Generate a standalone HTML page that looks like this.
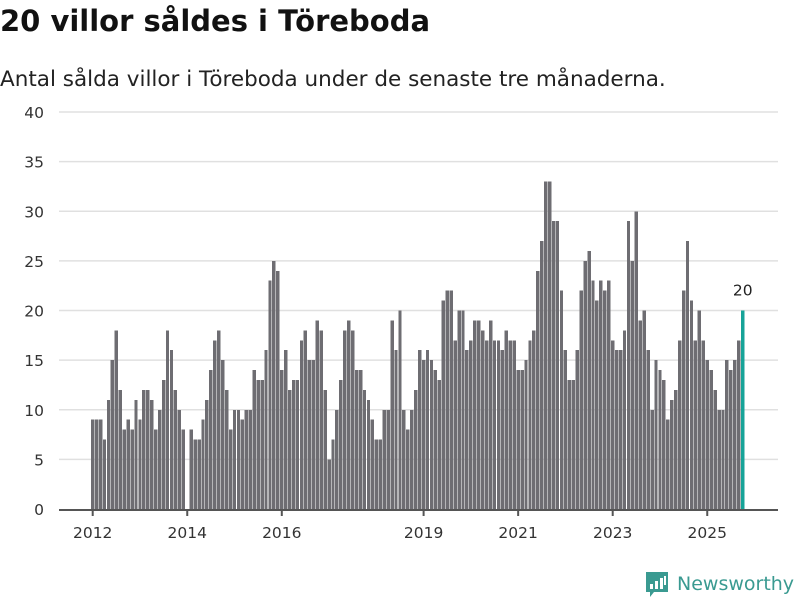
<!DOCTYPE html>
<html><head><meta charset="utf-8"><style>
body{margin:0;width:800px;height:600px;background:#fff;font-family:"DejaVu Sans","Liberation Sans",sans-serif;overflow:hidden;position:relative}
#title{position:absolute;left:0;top:4px;font-size:29px;font-weight:bold;color:#111;margin:0;white-space:nowrap}
#sub{position:absolute;left:0;top:67px;font-size:21.5px;color:#222;white-space:nowrap}
svg{position:absolute;left:0;top:0;font-family:"DejaVu Sans","Liberation Sans",sans-serif}
</style></head><body>
<h1 id="title">20 villor såldes i Töreboda</h1>
<div id="sub">Antal sålda villor i Töreboda under de senaste tre månaderna.</div>
<svg id="chart" width="800" height="600"></svg>
<script>
const values = [9,9,9,7,11,15,18,12,8,9,8,11,9,12,12,11,8,10,13,18,16,12,10,8,
0,8,7,7,9,11,14,17,18,15,12,8,10,10,9,10,10,14,13,13,16,23,25,24,
14,16,12,13,13,17,18,15,15,19,18,12,5,7,10,13,18,19,18,14,14,12,11,9,
7,7,10,10,19,16,20,10,8,10,12,16,15,16,15,14,13,21,22,22,17,20,20,16,
17,19,19,18,17,19,17,17,16,18,17,17,14,14,15,17,18,24,27,33,33,29,29,22,
16,13,13,16,22,25,26,23,21,23,22,23,17,16,16,18,29,25,30,19,20,16,10,15,
14,13,9,11,12,17,22,27,21,17,20,17,15,14,12,10,10,15,14,15,17,20];
const yTicks = [0,5,10,15,20,25,30,35,40];
const xTickLabels = ["2012","2014","2016","2019","2021","2023","2025"];
const xTickIndex = [0,24,48,84,108,132,156];

const svg = document.getElementById('chart');
const NS = 'http://www.w3.org/2000/svg';
const plotL = 59, plotR = 778, y0 = 509, yTop = 112, yMax = 40;
const x0 = 91, step = 650/165, bw = 3.4;
const yScale = v => y0 - v * (y0 - yTop) / yMax;
const xScale = i => x0 + i * step;
function mk(tag, attrs){const e=document.createElementNS(NS,tag);for(const k in attrs)e.setAttribute(k,attrs[k]);svg.appendChild(e);return e;}

yTicks.forEach(t => {
  if (t > 0) {
    const g = mk('line',{x1:plotL,x2:plotR,y1:yScale(t),y2:yScale(t),stroke:'#e0e0e0','stroke-width':1.5});
    
    
  }
  const tx = mk('text',{x:44,y:yScale(t)+6,'text-anchor':'end','font-size':15.5,fill:'#333'});
  tx.textContent = t;
  
  
});

values.forEach((v, i) => {
  const last = i === values.length - 1;
  const r = mk('rect',{x:xScale(i),y:yScale(v),width:bw,height:y0-yScale(v),fill:last?'#17a398':'#6e6d72','shape-rendering':'crispEdges'});
  
  
});

const ax = mk('line',{x1:plotL,x2:plotR,y1:y0+1,y2:y0+1,stroke:'#555','stroke-width':2});



xTickIndex.forEach((idx, k) => {
  const cx = xScale(idx) + bw/2;
  const tl = mk('line',{x1:cx,x2:cx,y1:y0,y2:y0+7,stroke:'#555','stroke-width':2});
  
  
  const tx = mk('text',{x:cx,y:y0+29,'text-anchor':'middle','font-size':15.5,fill:'#333'});
  tx.textContent = xTickLabels[k];
  
  
});

const li = values.length - 1;
const lbl = mk('text',{x:xScale(li)+bw/2,y:yScale(values[li])-15,'text-anchor':'middle','font-size':15.5,fill:'#222'});
lbl.textContent = values[li];



const logo = mk('g',{});


const ic = document.createElementNS(NS,'path');
ic.setAttribute('d','M646 572 h22 v20 h-14 l-4 5 v-5 h-4 z');
ic.setAttribute('fill','#3a9a91');
logo.appendChild(ic);
[[650,584,3,5],[655,581,3,8],[660,578,3,11],[664,576,2,9]].forEach(b=>{
  const r=document.createElementNS(NS,'rect');r.setAttribute('x',b[0]);r.setAttribute('y',b[1]);r.setAttribute('width',b[2]);r.setAttribute('height',b[3]);r.setAttribute('fill','#fff');logo.appendChild(r);
});
const lt = document.createElementNS(NS,'text');
lt.setAttribute('x',677);lt.setAttribute('y',590);lt.setAttribute('font-size',19);lt.setAttribute('fill','#3a9a91');
lt.textContent='Newsworthy';
logo.appendChild(lt);
</script>
</body></html>
